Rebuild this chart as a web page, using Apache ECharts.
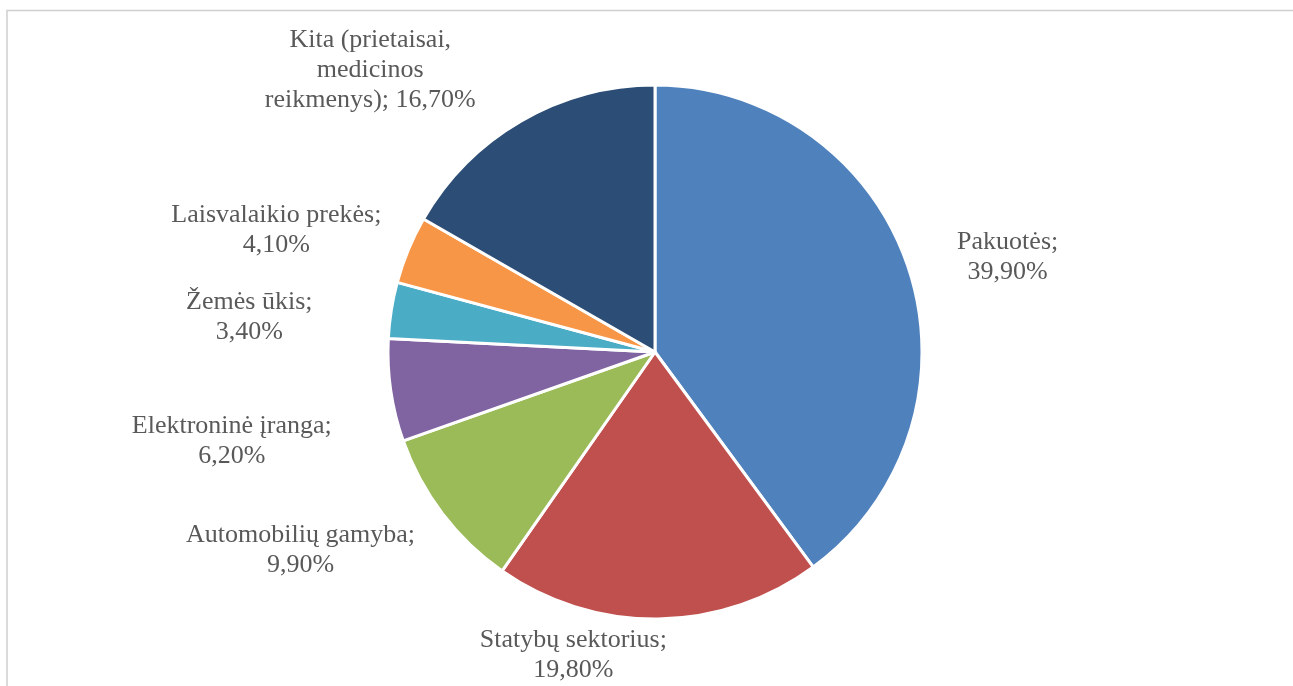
<!DOCTYPE html>
<html>
<head>
<meta charset="utf-8">
<title>Pie chart</title>
<script src="https://cdn.jsdelivr.net/npm/echarts@6/dist/echarts.min.js"></script>
<style>
  html, body { margin: 0; padding: 0; background: #ffffff; }
  #chart { width: 1293px; height: 686px; }
</style>
</head>
<body>
<div id="chart"></div>
<script>
// Sectors in clockwise order starting at 12 o'clock
const categories = [
  'Pakuotės',
  'Statybų sektorius',
  'Automobilių gamyba',
  'Elektroninė įranga',
  'Žemės ūkis',
  'Laisvalaikio prekės',
  'Kita (prietaisai,\nmedicinos\nreikmenys)'
];
const shares = [39.9, 19.8, 9.9, 6.2, 3.4, 4.1, 16.7];
const sliceColors = ['#4F81BD', '#C0504D', '#9BBB59', '#8064A2', '#4BACC6', '#F79646', '#2C4D75'];

// Label placement: shift of each label centre from the rim point at its sector's mid-angle
const labelShift = [[99, -12], [-85, 36], [-142, 37], [-159, 51], [-142, 7], [-132, -20], [-151, -51]];

const CENTER = [655, 352];
const RADIUS = 267;

const fmtPct = v => v.toFixed(2).replace('.', ',') + '%';

const total = shares.reduce((a, b) => a + b, 0);
const midAngle = shares.map((v, i) => {
  const before = shares.slice(0, i).reduce((a, b) => a + b, 0);
  return ((before + v / 2) / total) * 2 * Math.PI;
});

const chart = echarts.init(document.getElementById('chart'), null, { renderer: 'canvas' });

chart.setOption({
  backgroundColor: '#ffffff',
  animation: false,
  graphic: [{
    type: 'rect',
    shape: { x: 7, y: 10.5, width: 1400, height: 800 },
    style: { fill: 'none', stroke: '#d0d0d0', lineWidth: 1.5 },
    silent: true,
    z: -1
  }],
  series: [{
    type: 'pie',
    center: [CENTER[0], CENTER[1]],
    radius: RADIUS,
    startAngle: 90,
    clockwise: true,
    avoidLabelOverlap: false,
    itemStyle: { borderColor: '#ffffff', borderWidth: 3 },
    label: {
      show: true,
      position: 'outside',
      fontFamily: '"Liberation Serif", "Times New Roman", serif',
      fontSize: 26,
      lineHeight: 30,
      color: '#595959',
      align: 'center',
      formatter: p => p.name.indexOf('\n') >= 0
        ? p.name + '; ' + fmtPct(p.value)
        : p.name + ';\n' + fmtPct(p.value)
    },
    labelLine: { show: false },
    emphasis: { disabled: true },
    labelLayout: p => {
      const a = midAngle[p.dataIndex];
      const s = labelShift[p.dataIndex];
      return {
        x: CENTER[0] + RADIUS * Math.sin(a) + s[0],
        y: CENTER[1] - RADIUS * Math.cos(a) + s[1],
        align: 'center',
        verticalAlign: 'middle'
      };
    },
    data: categories.map((name, i) => ({
      name: name,
      value: shares[i],
      itemStyle: { color: sliceColors[i] }
    }))
  }]
});
</script>
</body>
</html>
